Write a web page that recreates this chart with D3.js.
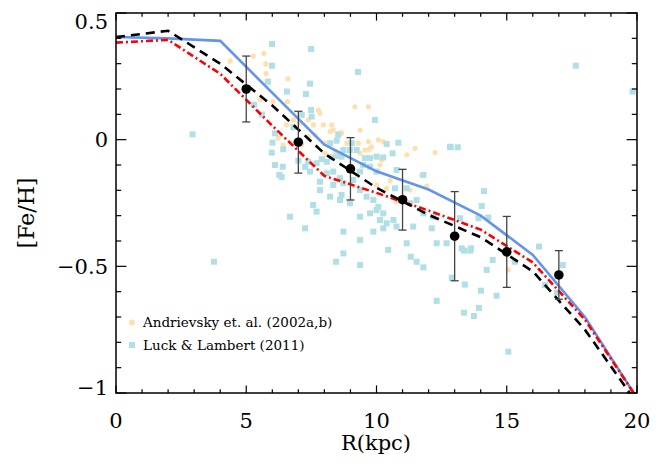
<!DOCTYPE html>
<html><head><meta charset="utf-8">
<script src="https://cdn.jsdelivr.net/npm/d3@7"></script>
<style>body{margin:0;background:#fff}svg{display:block}text{font-family:"DejaVu Serif",serif;fill:#000}</style>
</head><body><div id="chart"></div>
<script>
// ---------- data ----------
const modelR = [0,2,4,6,8,10,12,14,16,18,20];
const blueModel  = [0.405,0.40,0.39,0.185,-0.02,-0.125,-0.197,-0.30,-0.455,-0.70,-1.02];
const blackModel = [0.405,0.43,0.30,0.135,-0.055,-0.19,-0.297,-0.385,-0.52,-0.75,-1.04];
const redModel   = [0.383,0.394,0.26,0.055,-0.143,-0.21,-0.28,-0.355,-0.485,-0.71,-1.02];

const binR   = [5,7,9,11,13,15,17];
const binFe  = [0.20,-0.01,-0.115,-0.237,-0.381,-0.443,-0.534];
const binErr = [0.13,0.122,0.123,0.12,0.176,0.14,0.096];

const andrR = [4.38,5.27,5.68,5.76,6.60,5.75,5.53,6.03,6.58,15.06,
  9.17,9.69,7.77,7.83,7.38,7.58,7.96,8.28,8.34,8.53,8.22,8.66,9.37,9.69,10.07,10.26,9.81,9.56,9.37,10.07,10.2,
  11.16,11.48,12.25,7.64,7.38,6.55,6.81,6.23,7.06,10.77,11.29,10.0,10.39,8.02,8.41,8.02,
  8.63,8.86,9.30,9.72,6.42,7.13,11.73,11.93,10.52,10.13];
const andrFe = [0.31,0.33,0.341,0.261,0.24,0.299,0.158,0.15,0.15,-0.514,
  0.13,0.13,0.117,0.104,0.078,0.058,0.058,0.058,0.038,0.025,0.032,0.025,0.038,-0.008,-0.001,-0.008,-0.028,-0.041,-0.054,-0.067,-0.08,
  -0.06,-0.034,-0.051,0.019,0.012,0.058,0.078,0.006,0.065,-0.245,-0.199,-0.179,-0.192,-0.054,-0.047,-0.014,
  0.028,-0.014,-0.014,-0.038,-0.021,-0.021,-0.142,-0.183,-0.162,-0.1];

const luckR = [5.99,7.49,5.99,9.29,5.83,7.45,6.56,7.29,5.30,5.60,
  2.94,17.65,19.83,3.76,8.45,9.37,
  12.85,13.12,14.13,14.04,14.29,13.2,13.63,13.27,13.91,
  11.31,11.54,11.8,12.31,12.89,13.39,14.01,13.36,13.74,13.93,14.61,14.46,14.23,15.32,15.06,13.36,13.6,
  16.24,17.15,16.92,16.47,
  7.49,7.51,7.13,6.81,6.10,6.01,6.42,5.98,6.10,6.40,6.36,6.27,7.0,7.38,7.26,7.45,7.70,7.90,8.09,8.28,8.50,8.66,
  8.73,8.98,9.24,9.05,8.47,8.22,8.53,9.94,10.39,10.84,10.62,10.26,10.0,9.75,9.56,9.49,9.75,10.0,9.37,9.11,
  8.73,8.34,7.83,8.22,8.66,8.60,8.98,9.37,9.62,9.88,10.07,10.26,10.0,9.75,9.37,10.13,10.39,10.65,10.77,10.26,
  9.88,9.37,8.73,7.57,7.70,6.68,7.26,8.73,10.45,11.16,11.41,12.12,12.31,12.18,11.8,11.29,11.54,11.8,10.77,
  10.71,11.16,12.82,8.09,8.34,8.60,7.83,12.69];
const luckFe = [0.378,0.358,0.292,0.267,0.229,0.221,0.19,0.18,0.138,0.099,
  0.021,0.292,0.19,-0.482,-0.482,-0.495,
  -0.03,-0.03,-0.203,-0.262,-0.307,-0.31,-0.429,-0.429,-0.31,
  -0.462,-0.482,-0.504,-0.636,-0.545,-0.572,-0.596,-0.683,-0.696,-0.664,-0.616,-0.475,-0.514,-0.482,-0.837,-0.438,-0.438,
  -0.422,-0.495,-0.604,-0.574,
  0.117,0.091,0.098,0.049,0.025,-0.012,-0.038,-0.051,-0.1,-0.107,-0.148,-0.139,-0.083,-0.087,-0.107,-0.126,-0.093,-0.077,-0.087,-0.07,-0.064,-0.067,
  -0.041,-0.041,-0.041,-0.014,-0.004,-0.014,0.019,0.078,-0.017,-0.012,-0.054,-0.07,-0.067,-0.073,-0.073,-0.1,-0.107,-0.126,-0.126,-0.159,
  -0.172,-0.179,-0.199,-0.225,-0.218,-0.238,-0.251,-0.199,-0.225,-0.238,-0.265,-0.291,-0.278,-0.291,-0.304,-0.317,-0.33,-0.317,-0.343,-0.35,
  -0.363,-0.396,-0.363,-0.258,-0.284,-0.304,-0.35,-0.449,-0.435,-0.409,-0.343,-0.35,-0.409,-0.304,-0.291,-0.251,-0.238,-0.139,-0.12,
  -0.192,-0.192,-0.028,-0.133,-0.126,-0.152,-0.166,-0.409];

const xMajor = [0,5,10,15,20];
const xMajorLabels = ["0","5","10","15","20"];
const yMajor = [-1,-0.5,0,0.5];
const yMajorLabels = ["\u22121","\u22120.5","0","0.5"];
const legendLabels = ["Andrievsky et. al. (2002a,b)","Luck & Lambert (2011)"];

// ---------- layout ----------
const W=668,H=464, L=116,T=13,Rr=637,B=393;
const svg=d3.select("#chart").append("svg").attr("width",W).attr("height",H);
const x=d3.scaleLinear().domain([0,20]).range([L,Rr]);
const y=d3.scaleLinear().domain([-1,0.5]).range([B,T]);

const plot=svg.append("g");
plot.append("clipPath").attr("id","clip").append("rect").attr("x",L).attr("y",T).attr("width",Rr-L).attr("height",B-T);
const g=plot.append("g").attr("clip-path","url(#clip)");

// scatter
const orange="#ffdfae", cyan="#b0dfe5";
g.selectAll("circle.andr").data(andrR).join("circle").attr("class","andr")
  .attr("cx",(d)=>x(d)).attr("cy",(d,i)=>y(andrFe[i])).attr("r",2.6).attr("fill",orange);
g.selectAll("rect.luck").data(luckR).join("rect").attr("class","luck")
  .attr("x",d=>x(d)-3).attr("y",(d,i)=>y(luckFe[i])-3).attr("width",6).attr("height",6).attr("fill",cyan);

// model lines
const line=(vals)=>d3.line().x((d,i)=>x(modelR[i])).y((d,i)=>y(vals[i]))(vals);
g.append("path").attr("d",line(blueModel)).attr("fill","none").attr("stroke","#6495ed").attr("stroke-width",2.6);
g.append("path").attr("d",line(redModel)).attr("fill","none").attr("stroke","#ff0000").attr("stroke-width",2.6).attr("stroke-dasharray","7,3,2,3");
g.append("path").attr("d",line(blackModel)).attr("fill","none").attr("stroke","#000").attr("stroke-width",2.6).attr("stroke-dasharray","9,6");

// error bars
const eb=plot.append("g").attr("stroke","#444").attr("stroke-width",1.3);
binR.forEach((r,i)=>{
  const cx=x(r), y1=y(binFe[i]+binErr[i]), y2=y(binFe[i]-binErr[i]);
  eb.append("line").attr("x1",cx).attr("x2",cx).attr("y1",y1).attr("y2",y2);
  eb.append("line").attr("x1",cx-4).attr("x2",cx+4).attr("y1",y1).attr("y2",y1);
  eb.append("line").attr("x1",cx-4).attr("x2",cx+4).attr("y1",y2).attr("y2",y2);
});
plot.selectAll("circle.bin").data(binR).join("circle").attr("class","bin")
  .attr("cx",d=>x(d)).attr("cy",(d,i)=>y(binFe[i])).attr("r",4.8).attr("fill","#000");

// frame & ticks
const ax=svg.append("g").attr("stroke","#000").attr("stroke-width",1.2);
const xMinor=d3.range(0,21,1), yMinor=d3.range(-10,6,1).map(d=>d/10);
const xtl=(v)=>xMajor.includes(v)?7.6:3.8, ytl=(v)=>yMajor.some(m=>Math.abs(m-v)<1e-9)?10.4:5.2;
xMinor.forEach(v=>{
  ax.append("line").attr("x1",x(v)).attr("x2",x(v)).attr("y1",B).attr("y2",B-xtl(v));
  ax.append("line").attr("x1",x(v)).attr("x2",x(v)).attr("y1",T).attr("y2",T+xtl(v));
});
yMinor.forEach(v=>{
  ax.append("line").attr("x1",L).attr("x2",L+ytl(v)).attr("y1",y(v)).attr("y2",y(v));
  ax.append("line").attr("x1",Rr).attr("x2",Rr-ytl(v)).attr("y1",y(v)).attr("y2",y(v));
});
svg.append("rect").attr("x",L).attr("y",T).attr("width",Rr-L).attr("height",B-T).attr("fill","none").attr("stroke","#000").attr("stroke-width",1.5);

// tick labels
svg.selectAll("text.xl").data(xMajor).join("text").attr("class","xl")
  .attr("x",d=>x(d)).attr("y",428).attr("text-anchor","middle").attr("font-size",21).text((d,i)=>xMajorLabels[i]);
svg.selectAll("text.yl").data(yMajor).join("text").attr("class","yl")
  .attr("x",108).attr("y",d=>Math.max(T+8,Math.min(B-6,y(d)))).attr("dy","0.36em").attr("text-anchor","end").attr("font-size",21)
  .text((d,i)=>yMajorLabels[i]);

svg.append("text").attr("x",376).attr("y",450).attr("text-anchor","middle").attr("font-size",21).text("R(kpc)");
svg.append("text").attr("transform","translate(34,213) rotate(-90)").attr("text-anchor","middle").attr("font-size",22).text("[Fe/H]");

// legend
const lg=svg.append("g");
lg.append("circle").attr("cx",132).attr("cy",322.5).attr("r",3).attr("fill",orange);
lg.append("rect").attr("x",129).attr("y",342).attr("width",6).attr("height",6).attr("fill",cyan);
lg.selectAll("text").data(legendLabels).join("text").attr("x",143).attr("y",(d,i)=>322.5+i*22.7).attr("dy","0.36em")
  .attr("font-size",13.5).text(d=>d);
</script></body></html>
